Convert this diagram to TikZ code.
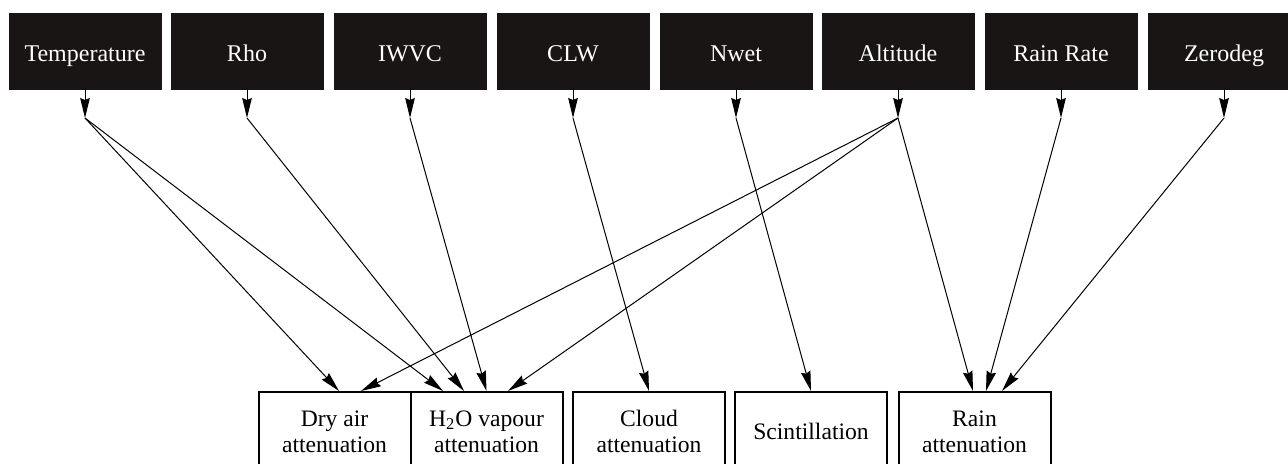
\documentclass[tikz,border=0pt]{standalone}
\usepackage{fontspec}
\setmainfont{Liberation Serif}
\usetikzlibrary{arrows.meta,calc}
\definecolor{boxfill}{HTML}{1A1515}
\begin{document}
\begin{tikzpicture}[x=0.5pt,y=-0.5pt,
  param/.style={draw=boxfill, fill=boxfill, text=white, minimum width=76pt, minimum height=38pt, inner sep=0pt, text height=11pt, text depth=1pt, font=\fontsize{12}{13}\selectfont},
  effect/.style={draw=black, line width=1pt, minimum width=76pt, minimum height=39.5pt, inner sep=0pt, align=center, anchor=north, font=\fontsize{11.8}{13}\selectfont},
  conn/.style={line width=0.5pt, -{Stealth[length=10pt,width=4.8pt,inset=1pt]}}]
\useasboundingbox (0,0) rectangle (1288,463);
% parameter boxes
\node[param] (T) at (85,51) {Temperature};
\node[param] (R) at (247,51) {Rho};
\node[param] (I) at (410,51) {IWVC};
\node[param] (C) at (573,51) {CLW};
\node[param] (N) at (736,51) {Nwet};
\node[param] (A) at (898,51) {Altitude};
\node[param] (RR) at (1061,51) {Rain Rate};
\node[param] (Z) at (1224,51) {Zerodeg};
% effect boxes
\node[effect] (dry) at (334.5,391) {Dry air\\attenuation};
\node[effect] (h2o) at (486.5,391) {H\textsubscript{2}O vapour\\attenuation};
\node[effect] (cld) at (649,391) {Cloud\\attenuation};
\node[effect] (sci) at (811,391) {Scintillation};
\node[effect] (rain) at (974.5,391) {Rain\\attenuation};
% hubs
\coordinate (hT) at (85,118);
\coordinate (hR) at (247,118);
\coordinate (hI) at (410,118);
\coordinate (hC) at (573,118);
\coordinate (hN) at (736,118);
\coordinate (hA) at (898,118);
\coordinate (hRR) at (1061,118);
\coordinate (hZ) at (1224,118);
\foreach \n in {T,R,I,C,N,A,RR,Z} {\draw[conn] (\n.south) -- (h\n);}
% connectors
\draw[conn] (hT) -- ($(dry.north)+(4.5,0)$);
\draw[conn] (hT) -- ($(h2o.north)+(-43.5,0)$);
\draw[conn] (hR) -- ($(h2o.north)+(-22.5,0)$);
\draw[conn] (hI) -- (h2o.north);
\draw[conn] (hC) -- (cld.north);
\draw[conn] (hN) -- (sci.north);
\draw[conn] (hA) -- ($(dry.north)+(26.5,0)$);
\draw[conn] (hA) -- ($(h2o.north)+(21.5,0)$);
\draw[conn] (hA) -- ($(rain.north)+(-1.5,0)$);
\draw[conn] (hRR) -- ($(rain.north)+(11.5,0)$);
\draw[conn] (hZ) -- ($(rain.north)+(27.5,0)$);
\end{tikzpicture}
\end{document}
